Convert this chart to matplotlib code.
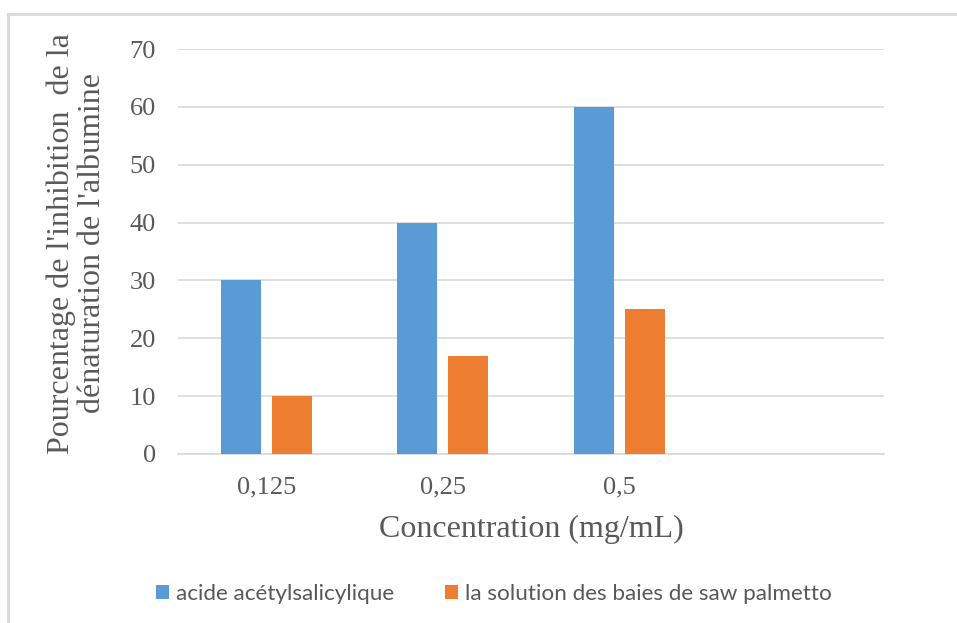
import matplotlib.pyplot as plt
import numpy as np
from matplotlib.lines import Line2D

# Data
categories = ['0,125', '0,25', '0,5', '']
aspirin = [30, 40, 60]
saw_palmetto = [10, 17, 25]
series_names = ['acide acétylsalicylique', 'la solution des baies de saw palmetto']
yticks = [0, 10, 20, 30, 40, 50, 60, 70]

blue = '#5B9BD5'
orange = '#ED7D31'
grey_txt = '#595959'

fig = plt.figure(figsize=(9.57, 6.23), dpi=100)
ax = fig.add_axes([178 / 957, 1 - 454 / 623, (884 - 178) / 957, (454 - 49) / 623])

x = np.arange(len(categories))
w = 0.227
off = 0.144
ax.bar(x[:3] - off, aspirin, w, color=blue, label=series_names[0], zorder=3)
ax.bar(x[:3] + off, saw_palmetto, w, color=orange, label=series_names[1], zorder=3)

ax.set_xlim(-0.5, len(categories) - 0.5)
ax.set_ylim(0, 70)
ax.set_yticks(yticks)
ax.set_xticks(x)
ax.set_xticklabels(categories)
ax.grid(axis='y', color='#d9d9d9', linewidth=1.2, zorder=0)
for s in ['top', 'right', 'left']:
    ax.spines[s].set_visible(False)
ax.spines['bottom'].set_color('#d9d9d9')
ax.spines['bottom'].set_linewidth(1.2)
ax.tick_params(length=0, labelsize=19, labelcolor=grey_txt)
ax.tick_params(axis='x', pad=16)
ax.tick_params(axis='y', pad=16)
for lab in ax.get_xticklabels() + ax.get_yticklabels():
    lab.set_family('Liberation Serif')

ax.set_xlabel('Concentration (mg/mL)', family='Liberation Serif', fontsize=23,
              color=grey_txt, labelpad=12)
ax.set_ylabel("Pourcentage de l'inhibition  de la\ndénaturation de l'albumine",
              family='Liberation Serif', fontsize=23, color=grey_txt,
              linespacing=1.1, labelpad=16, y=0.52)

# legend at the bottom
fig.legend(loc='center', bbox_to_anchor=(494 / 957, 1 - 594 / 623), ncol=2,
           frameon=False, handlelength=0.55, handleheight=0.55, handletextpad=0.3,
           columnspacing=2.3, prop={'family': ['Lato', 'DejaVu Sans'], 'size': 16.2},
           labelcolor=grey_txt)

# chart area border (left and top edges)
fig.add_artist(Line2D([8 / 957, 8 / 957], [0, 1 - 14 / 623], color='#d9d9d9', lw=2,
                      transform=fig.transFigure))
fig.add_artist(Line2D([8 / 957, 1], [1 - 14 / 623, 1 - 14 / 623], color='#d9d9d9', lw=2,
                      transform=fig.transFigure))

fig.savefig('out.png', dpi=100)
